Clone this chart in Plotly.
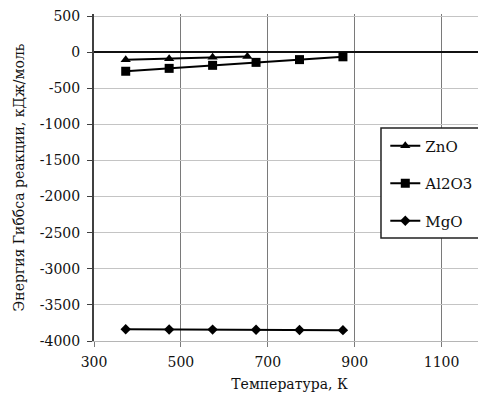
import plotly.graph_objects as go

# Data
T_zno = [373, 473, 573, 653]
G_zno = [-106, -93, -72, -60]

T_al2o3 = [373, 473, 573, 673, 773, 873]
G_al2o3 = [-265, -225, -183, -142, -104, -65]

T_mgo = [373, 473, 573, 673, 773, 873]
G_mgo = [-3838, -3840, -3842, -3845, -3847, -3850]

x_ticks = [300, 500, 700, 900, 1100]
y_ticks = [500, 0, -500, -1000, -1500, -2000, -2500, -3000, -3500, -4000]

FONT = "DejaVu Serif"
FS = 14

fig = go.Figure()
fig.add_trace(go.Scatter(x=T_zno, y=G_zno, name="ZnO", mode="lines+markers",
                         legendgroup="a",
                         line=dict(color="black", width=2),
                         marker=dict(symbol="triangle-up", size=9, color="black")))
fig.add_trace(go.Scatter(x=T_al2o3, y=G_al2o3, name="Al2O3", mode="lines+markers",
                         legendgroup="b",
                         line=dict(color="black", width=2),
                         marker=dict(symbol="square", size=9, color="black")))
fig.add_trace(go.Scatter(x=T_mgo, y=G_mgo, name="MgO", mode="lines+markers",
                         legendgroup="c",
                         line=dict(color="black", width=2),
                         marker=dict(symbol="diamond", size=8, color="black")))

# legend frame
fig.add_shape(type="rect", xref="paper", yref="paper",
              x0=0.734, x1=1.1, y0=0.315, y1=0.6514,
              fillcolor="white", line=dict(color="#222222", width=1.5),
              layer="above")

fig.update_layout(
    width=478, height=388,
    margin=dict(l=86, r=1, t=6, b=55, autoexpand=False),
    paper_bgcolor="white", plot_bgcolor="white",
    font=dict(family=FONT, size=FS, color="#111111"),
    legend=dict(x=0.745, y=0.6468, xanchor="left", yanchor="top",
                bgcolor="rgba(0,0,0,0)", borderwidth=0,
                font=dict(family=FONT, size=15, color="#111111"),
                tracegroupgap=15),
    xaxis=dict(range=[300, 1200], tickvals=x_ticks, ticktext=[str(v) for v in x_ticks],
               showgrid=True, gridcolor="#7a7a7a", gridwidth=1,
               ticks="outside", ticklen=5, tickcolor="#7a7a7a",
               ticklabelstandoff=3,
               showline=True, linecolor="#b5b5b5", linewidth=1,
               zeroline=False,
               title=dict(text="Температура, К", font=dict(family=FONT, size=FS), standoff=10),
               tickfont=dict(family=FONT, size=FS)),
    yaxis=dict(range=[-4000, 527.7], tickvals=y_ticks, ticktext=[str(v) for v in y_ticks],
               showgrid=True, gridcolor="#c4c4c4", gridwidth=1,
               ticks="outside", ticklen=5, tickcolor="#404040",
               ticklabelstandoff=4, ticklabeloverflow="allow",
               showline=True, linecolor="#404040", linewidth=2,
               zeroline=True, zerolinecolor="#111111", zerolinewidth=2,
               title=dict(text="Энергия Гиббса реакции, кДж/моль", font=dict(family=FONT, size=FS), standoff=12),
               tickfont=dict(family=FONT, size=FS)),
)

fig.write_html("out.html")
